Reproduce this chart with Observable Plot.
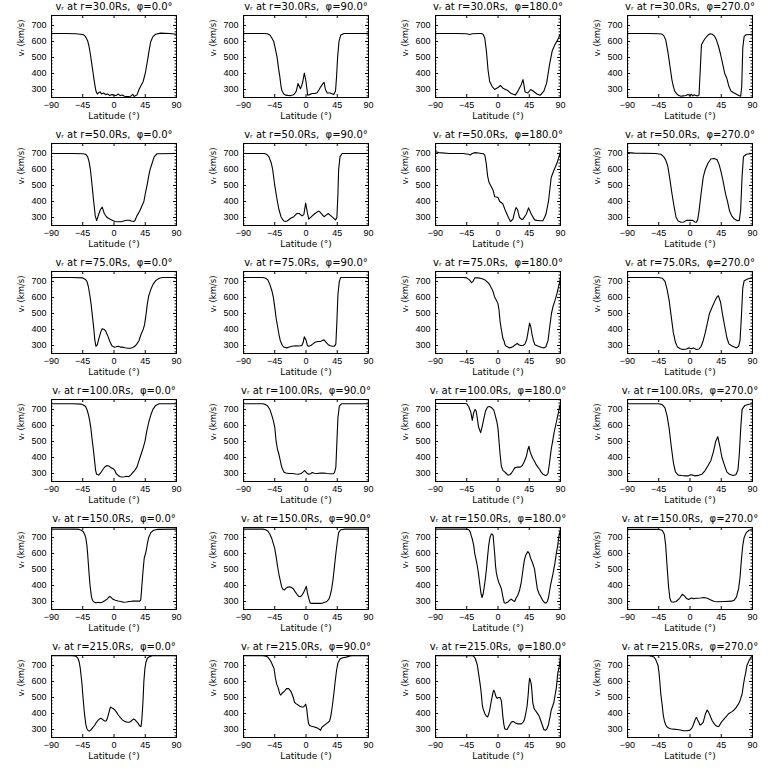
<!DOCTYPE html>
<html><head><meta charset="utf-8">
<script src="https://cdn.jsdelivr.net/npm/d3@7"></script>
<script src="https://cdn.jsdelivr.net/npm/@observablehq/plot@0.6"></script>
<style>
body{margin:0;background:#fff;}
#grid{display:grid;grid-template-columns:repeat(4,192px);grid-template-rows:repeat(6,128px);width:768px;height:768px;}
#grid svg{display:block;}
</style></head><body><div id="grid"></div>
<script>
// radial speed v_r (km/s) versus latitude (deg): [lat, v]
const r30_phi0 = [[-90,650],[-70,650],[-55,648],[-48,645],[-44,642],[-41,630],[-38,605],[-36,570],[-34,520],[-32,460],[-30,400],[-28,340],[-26,290],[-24,272],[-22,280],[-20,285],[-18,272],[-15,278],[-12,268],[-9,272],[-6,262],[-3,268],[0,264],[3,262],[6,272],[9,262],[12,266],[15,258],[18,256],[21,256],[24,258],[27,270],[29,256],[31,262],[33,265],[36,300],[39,325],[42,350],[45,400],[47,450],[49,500],[51,555],[53,600],[56,630],[60,645],[67,652],[80,650],[90,645]];
const r30_phi90 = [[-90,650],[-60,650],[-56,648],[-52,640],[-49,620],[-46.5,600],[-44,550],[-41.6,500],[-39.5,430],[-37.7,380],[-36,320],[-34.4,290],[-32,272],[-29.6,265],[-26,263],[-22,262],[-19,266],[-17,270],[-14,290],[-11.5,337],[-8,305],[-5,340],[-2.4,403],[0,350],[2.4,265],[5,268],[9,275],[13,275],[16,280],[19,300],[21,315],[24,335],[26,345],[28,300],[30.5,278],[35,278],[38,272],[40,268],[42.5,290],[44,380],[45.5,500],[47.5,600],[50,640],[55,650],[90,650]];
const r30_phi180 = [[-90,650],[-60,650],[-45,648],[-41,643],[-37,648],[-28,650],[-24,650],[-21.5,645],[-19,620],[-16.7,540],[-14.3,420],[-12,350],[-8.6,320],[-4.8,300],[0,312],[3.4,325],[7,308],[13.4,295],[19,275],[25,265],[28.7,290],[33.5,330],[36,362],[39,285],[43,278],[47,300],[50,292],[56.6,270],[61,265],[66,290],[70,340],[74,450],[78,540],[82,580],[86,610],[90,650]];
const r30_phi270 = [[-90,650],[-60,650],[-45,648],[-41,646],[-38,638],[-35,610],[-32,540],[-30,480],[-28,420],[-26,360],[-24,320],[-22,290],[-19,272],[-16,262],[-13,258],[-10,260],[-6,262],[-3,268],[0,262],[2,270],[4,260],[6,268],[8,262],[11,260],[13,265],[14.5,400],[16.5,580],[19,600],[22,620],[26,640],[29,648],[32,645],[35,635],[38,610],[41,570],[44,520],[47,460],[50,400],[53,370],[56,320],[59,290],[63,280],[67,270],[70,262],[73,258],[74.5,320],[76,560],[78,632],[81,642],[90,645]];

const r50_phi0 = [[-90,700],[-60,700],[-45,698],[-41,695],[-38,680],[-36,650],[-34,600],[-32,520],[-30,430],[-28.5,370],[-27,310],[-25,280],[-22,320],[-19.5,350],[-17,365],[-14,325],[-11,305],[-8,295],[-5,288],[-1,280],[2,275],[6,273],[10,273],[14,278],[18,283],[22,283],[25,278],[28,275],[30,280],[33,310],[37,340],[40,370],[43,400],[46,470],[48,510],[50,560],[52,600],[55,640],[58,680],[62,698],[90,700]];
const r50_phi90 = [[-90,700],[-60,700],[-57,695],[-53.5,680],[-50,640],[-48,600],[-45,500],[-42,420],[-39,350],[-36,305],[-34,290],[-32,278],[-29,276],[-27,278],[-22,295],[-17.5,305],[-13,325],[-10,325],[-5.5,310],[-3,320],[-0.5,390],[2,330],[4,290],[6,298],[9,310],[13,325],[18,340],[20,335],[23,320],[26,305],[29,315],[32,325],[36,310],[40,295],[42.5,285],[44.5,300],[46,450],[47,600],[49,680],[52,700],[90,700]];
const r50_phi180 = [[-90,710],[-85,705],[-70,700],[-50,700],[-43,695],[-40,690],[-37,700],[-33,705],[-28,703],[-24,700],[-21,698],[-19,690],[-17,640],[-15,560],[-13,520],[-10,495],[-7,470],[-4.8,430],[-2,428],[0,425],[2.4,400],[5,392],[7,385],[10,350],[12,330],[15,300],[18,275],[21.5,290],[24,335],[26,362],[28,350],[31,300],[34,288],[36,290],[40.7,320],[44,360],[48,320],[52.7,285],[56,282],[60,280],[64.6,280],[67,300],[69,320],[72.7,400],[76.6,550],[81,600],[85,640],[90,710]];
const r50_phi270 = [[-90,705],[-80,702],[-50,700],[-42,695],[-38,680],[-35,660],[-32,620],[-29,540],[-26,450],[-23,370],[-20,300],[-17,278],[-13,270],[-9,272],[-5,282],[0,283],[4,282],[7,272],[9,270],[11,285],[13,340],[16,450],[19,550],[22,600],[26,640],[30,665],[35,668],[39,660],[42,630],[45,580],[48,520],[51,450],[54,400],[57,340],[60,310],[64,290],[68,280],[71,282],[73,350],[75,560],[77,680],[81,695],[90,700]];

const r75_phi0 = [[-90,725],[-60,725],[-45,722],[-41,712],[-39,700],[-37,670],[-35,620],[-33,560],[-31,480],[-29,400],[-27.5,330],[-26,295],[-24,305],[-22,340],[-19,385],[-17,405],[-14,400],[-12,390],[-9,360],[-6,325],[-3,298],[0,290],[3,292],[6,295],[9,290],[12,290],[16,286],[20,283],[24,283],[27,288],[30,295],[33,310],[36,330],[39,370],[42,400],[44,430],[46,490],[48,560],[50,610],[53,650],[56,680],[60,705],[65,720],[70,725],[90,725]];
const r75_phi90 = [[-90,725],[-62,725],[-58,720],[-55,710],[-52,680],[-49,640],[-47,600],[-45,540],[-43,470],[-41,420],[-39,370],[-37,330],[-34,300],[-32,290],[-28,285],[-24,290],[-20,295],[-15,298],[-10,297],[-6,300],[-4,320],[-2.4,355],[0,335],[2,300],[4,295],[7,300],[10,310],[13,320],[17,325],[21,325],[24,332],[26,335],[29,320],[32,305],[35,298],[38,295],[41,296],[43,310],[44.5,450],[46,620],[48,700],[50,725],[90,725]];
const r75_phi180 = [[-90,725],[-50,725],[-45,722],[-41,710],[-38,692],[-36,700],[-33.5,722],[-29,722],[-24,718],[-19,710],[-15,695],[-12,680],[-9,655],[-7,635],[-5,605],[-2,580],[0,560],[1.5,520],[3,450],[4.8,400],[7,345],[8.6,330],[10,305],[12,295],[16.8,285],[21.5,292],[25,305],[27.7,312],[30,305],[32.6,300],[36,300],[39,310],[41.5,340],[43.5,390],[45.5,440],[47,420],[49,370],[51,330],[53,305],[58,295],[63,288],[66,285],[69,292],[72,330],[74,400],[77,500],[79,540],[82,580],[85,625],[89,700],[90,730]];
const r75_phi270 = [[-90,725],[-45,725],[-40,720],[-36,700],[-33,650],[-30,580],[-27,480],[-24,380],[-21,320],[-18,290],[-14,280],[-10,275],[-5,278],[-2,285],[2,280],[5,285],[9,275],[13,278],[16,295],[19,330],[22,380],[25,440],[28,500],[32,540],[36,580],[39,605],[41,610],[44,570],[47,490],[50,420],[53,350],[56,310],[60,298],[64,290],[67,285],[70,295],[72,330],[74,480],[76,660],[78,705],[83,715],[90,725]];

const r100_phi0 = [[-90,735],[-60,735],[-47,733],[-44,728],[-41,718],[-39,700],[-37,670],[-35,630],[-33.5,590],[-32,530],[-30,460],[-28,380],[-26.5,320],[-25,295],[-22,290],[-19,305],[-16,325],[-13,342],[-10,350],[-7,345],[-4,335],[-1,330],[1,320],[3,300],[6,288],[9,280],[12,278],[15,280],[18,283],[21,280],[24,290],[27,305],[30,320],[33,340],[36,380],[39,420],[42,460],[44.6,500],[47,560],[50,620],[53,665],[56,700],[60,725],[65,735],[90,735]];
const r100_phi90 = [[-90,735],[-62,735],[-58,730],[-55,720],[-52,700],[-49,660],[-47,630],[-45,590],[-43,500],[-41,450],[-39,420],[-37,380],[-35,340],[-32,310],[-29,303],[-24,300],[-19,300],[-15,297],[-11,295],[-7,300],[-4,310],[-2,318],[0,308],[2,300],[4,295],[7,300],[9,306],[12,302],[16,300],[21,302],[26,303],[30,300],[35,298],[39,298],[41,305],[43,340],[44.5,500],[46,650],[48,720],[51,735],[90,735]];
const r100_phi180 = [[-90,737],[-48,737],[-45,735],[-42,715],[-39,680],[-37,632],[-35,680],[-33,700],[-31.5,690],[-30,650],[-28,590],[-25,555],[-23,590],[-21,630],[-18,690],[-15,715],[-12,718],[-9,710],[-6,695],[-3.8,660],[-1.5,620],[0,580],[1.5,500],[3,420],[4.8,345],[7,320],[9.6,310],[12,300],[14.4,290],[17,292],[19,300],[22,320],[24,335],[28,340],[32,340],[35,350],[38,375],[41,410],[43,450],[44.6,470],[46,440],[48,415],[50,395],[52.7,375],[55,355],[57.5,340],[60,325],[62,310],[65,295],[68,288],[70,290],[72,300],[74,360],[76.6,450],[79,510],[81,560],[84,620],[87,680],[90,740]];
const r100_phi270 = [[-90,735],[-45,735],[-40,730],[-36,710],[-33,660],[-30,580],[-27,470],[-24,370],[-21,310],[-17,290],[-12,287],[-7,285],[-3,285],[1,292],[4,290],[7,285],[12,288],[17,295],[22,320],[26,350],[30,380],[34,440],[37,500],[40,530],[43,470],[46,400],[49,360],[53,310],[57,295],[62,288],[66,292],[69,320],[71,420],[73,580],[75,700],[79,725],[85,732],[90,735]];

const r150_phi0 = [[-90,752],[-55,752],[-50,750],[-47,745],[-44,735],[-42,715],[-40.7,700],[-39,650],[-38,600],[-37,540],[-36,480],[-34.5,400],[-32.5,330],[-31,308],[-29.7,300],[-27,293],[-25,292],[-23,295],[-20,292],[-17,295],[-13.4,305],[-10,315],[-8,325],[-6,332],[-4,325],[-2,315],[2,308],[6,303],[10,300],[14,295],[18,297],[22,300],[26,302],[30,303],[34,302],[37,302],[38.5,310],[39.5,360],[40.5,420],[42,500],[43.5,570],[46,610],[48,660],[50,700],[53,730],[57,745],[62,750],[90,752]];
const r150_phi90 = [[-90,752],[-62,752],[-58,748],[-55,740],[-52,720],[-49,690],[-47,660],[-45,630],[-43,580],[-41,520],[-39,470],[-37,430],[-35,390],[-33,375],[-31,372],[-29,382],[-27,388],[-24,392],[-21,388],[-18,378],[-15.5,360],[-13,345],[-10.5,332],[-8,330],[-6,338],[-3,360],[-1,380],[0.5,395],[2,355],[4,320],[6,290],[10,288],[15,288],[20,288],[24,290],[27,295],[30,300],[33,315],[35,340],[37,380],[39,440],[41,520],[43,600],[45,670],[47,730],[50,748],[56,752],[90,752]];
const r150_phi180 = [[-90,752],[-50,752],[-45,752],[-42,748],[-40,735],[-38.5,710],[-37,690],[-35,650],[-33.5,600],[-31.5,560],[-29.7,520],[-28,470],[-26,400],[-24.5,350],[-23,325],[-21.5,345],[-20,385],[-18,450],[-16.7,500],[-15,580],[-13.4,650],[-11.5,700],[-9.6,722],[-8,720],[-7,712],[-5.8,650],[-4.8,600],[-3.5,520],[-2.4,480],[-1,450],[1,420],[3,400],[4.8,380],[7,330],[9,292],[11,290],[14.4,297],[17,308],[19,315],[22,305],[24,300],[26,320],[28.7,340],[31,370],[33.5,420],[36,500],[38,560],[40,590],[43,612],[45,600],[47,570],[49,550],[51,525],[52.7,500],[54.6,440],[56.6,380],[59,350],[61,335],[64.6,305],[67,293],[69,290],[71,300],[72.5,320],[75.6,400],[79,470],[82,540],[84,600],[86,650],[87.5,700],[90,752]];
const r150_phi270 = [[-90,750],[-45,750],[-40,745],[-37,720],[-35,650],[-33,520],[-31,400],[-29,320],[-27,298],[-24,295],[-20,300],[-15,320],[-11,345],[-8,335],[-5,318],[-2,312],[2,322],[5,318],[10,320],[15,322],[20,325],[25,320],[30,310],[35,300],[40,298],[50,300],[60,302],[64,310],[67,330],[70,380],[72,450],[74,560],[76,650],[78,700],[81,730],[85,745],[90,750]];

const r215_phi0 = [[-90,760],[-60,760],[-55,758],[-52,745],[-50,720],[-48.5,680],[-47,620],[-46,580],[-45,520],[-44,470],[-43,420],[-42,380],[-40.5,330],[-39,305],[-37,292],[-35.5,290],[-33,298],[-31,310],[-28,325],[-26,340],[-23,358],[-21,365],[-19,370],[-17,365],[-15,358],[-13,352],[-11,355],[-9.6,370],[-8,395],[-6.5,420],[-5,440],[-3,435],[-1,430],[1.5,420],[4,405],[6,392],[9,375],[12,360],[15,352],[19,345],[22,345],[24,350],[26,358],[28,365],[30,362],[32,352],[34.5,340],[36.5,325],[38,318],[39,320],[40,360],[41,420],[42,500],[43,600],[44.5,680],[46,720],[48,745],[51,755],[55,760],[90,760]];
const r215_phi90 = [[-90,760],[-62,760],[-58,758],[-55,752],[-52,735],[-50,720],[-48,700],[-46,680],[-44,620],[-42,580],[-40,560],[-38,525],[-36.5,515],[-34,528],[-31,540],[-28,555],[-25,555],[-22,540],[-20,520],[-18,495],[-16.5,470],[-14,460],[-12,455],[-9,445],[-6,440],[-4,440],[-2,448],[-0.5,458],[1,430],[2,390],[3.5,340],[5,325],[8,320],[12,315],[16,310],[19,302],[21,295],[23,315],[26,325],[29,335],[32,345],[34,352],[36,390],[38,450],[40,520],[42,600],[44,670],[46,715],[49,740],[53,748],[58,752],[62,757],[66,760],[90,760]];
const r215_phi180 = [[-90,760],[-40,760],[-36,760],[-34,752],[-32.5,740],[-31,720],[-29.7,700],[-28,650],[-26.3,600],[-25,560],[-24,520],[-22.5,450],[-21.5,430],[-19,400],[-17,385],[-15,378],[-13.5,395],[-12,420],[-10,470],[-8.6,500],[-7,535],[-6,545],[-4.5,530],[-3.4,510],[-2,498],[-1,495],[1,500],[3,500],[4.8,480],[6,430],[7,380],[8.5,330],[9.6,305],[12,300],[13.4,302],[15,315],[17,330],[19,345],[21,350],[23,348],[25,340],[28.7,335],[33.5,335],[36,345],[38,360],[40,400],[42,450],[43.5,520],[44.5,580],[45.5,620],[46.5,610],[48,580],[49,530],[50,470],[52,430],[53.6,420],[56,405],[58.4,390],[60,375],[62,350],[64,325],[66,300],[68,295],[70,300],[72.7,330],[75,380],[76.6,420],[79,450],[80.5,470],[82,510],[84,560],[86,650],[88.6,700],[90,760]];
const r215_phi270 = [[-90,760],[-60,760],[-55,758],[-52,752],[-49.7,740],[-48,722],[-46,700],[-44.5,650],[-43.5,600],[-42,520],[-40,450],[-38.5,390],[-36.7,350],[-35,330],[-33,315],[-30,308],[-28,305],[-24,302],[-18.5,300],[-14,297],[-9,292],[-4,292],[0,296],[2,305],[4,320],[6.5,350],[8,368],[9.4,375],[11,360],[12.7,345],[14,330],[15,328],[17,335],[19,345],[20.5,370],[22,395],[24.8,422],[26.5,410],[28.6,390],[30,375],[32,355],[35,335],[37,325],[39,320],[40.7,318],[42,322],[45,345],[47,355],[49.8,370],[53,385],[56,400],[60,410],[63,420],[66,435],[70,460],[72,480],[75,520],[77,580],[78.5,620],[80,650],[82,700],[85,730],[87,745],[90,760]];

const radii = [30, 50, 75, 100, 150, 215];
const phis = [0, 90, 180, 270];
const xTicks = [-90, -45, 0, 45, 90];
const yTicks = [300, 400, 500, 600, 700];
const yMinor = [260, 280, 320, 340, 360, 380, 420, 440, 460, 480, 520, 540, 560, 580, 620, 640, 660, 680, 720, 740, 760];
const yDomain = [250, 762];

const panels = [
  [r30_phi0, r30_phi90, r30_phi180, r30_phi270],
  [r50_phi0, r50_phi90, r50_phi180, r50_phi270],
  [r75_phi0, r75_phi90, r75_phi180, r75_phi270],
  [r100_phi0, r100_phi90, r100_phi180, r100_phi270],
  [r150_phi0, r150_phi90, r150_phi180, r150_phi270],
  [r215_phi0, r215_phi90, r215_phi180, r215_phi270]
];

const W = 192, H = 128, mL = 51, mR = 16, mT = 15, mB = 31;
const fw = W - mL - mR, fh = H - mT - mB;
const grid = document.getElementById("grid");
const tickFont = "'Liberation Sans', Arial, sans-serif";
const labelFont = "'DejaVu Sans', sans-serif";

radii.forEach((r, i) => {
  phis.forEach((phi, j) => {
    const data = panels[i][j];
    const title = `vᵣ at r=${r.toFixed(1)}Rs,  φ=${phi.toFixed(1)}°`;
    const chart = Plot.plot({
      width: W, height: H,
      marginLeft: mL, marginRight: mR, marginTop: mT, marginBottom: mB,
      style: {fontFamily: tickFont, fontSize: "9px", background: "white", color: "black"},
      x: {domain: [-90, 90]},
      y: {domain: yDomain},
      marks: [
        Plot.frame({stroke: "black", strokeWidth: 1, shapeRendering: "crispEdges"}),
        Plot.tickX(xTicks, {x: d => d, insetTop: fh - 3, stroke: "black"}),
        Plot.tickX(xTicks, {x: d => d, insetBottom: fh - 3, stroke: "black"}),
        Plot.tickY(yTicks, {y: d => d, insetRight: fw - 3, stroke: "black"}),
        Plot.tickY(yTicks, {y: d => d, insetLeft: fw - 3, stroke: "black"}),
        Plot.tickY(yMinor, {y: d => d, insetRight: fw - 1.5, stroke: "black"}),
        Plot.tickY(yMinor, {y: d => d, insetLeft: fw - 1.5, stroke: "black"}),
        Plot.axisX({ticks: xTicks, tickSize: 0, tickPadding: 4, label: null, fontSize: 9}),
        Plot.axisY({ticks: yTicks, tickSize: 0, tickPadding: 5, label: null, fontSize: 9}),
        Plot.line(data, {x: d => d[0], y: d => d[1], stroke: "black", strokeWidth: 1.1}),
        Plot.text([title], {text: d => d, frameAnchor: "top", dy: -9, fontSize: 10, fontFamily: labelFont, lineAnchor: "middle"}),
        Plot.text(["vᵣ (km/s)"], {text: d => d, frameAnchor: "left", dx: -30, rotate: -90, fontSize: 8.5, fontFamily: labelFont, lineAnchor: "middle"}),
        Plot.text(["Latitude (°)"], {text: d => d, frameAnchor: "bottom", dy: 19, fontSize: 9, fontFamily: labelFont, lineAnchor: "middle"})
      ]
    });
    grid.appendChild(chart);
  });
});
</script>
</body></html>
